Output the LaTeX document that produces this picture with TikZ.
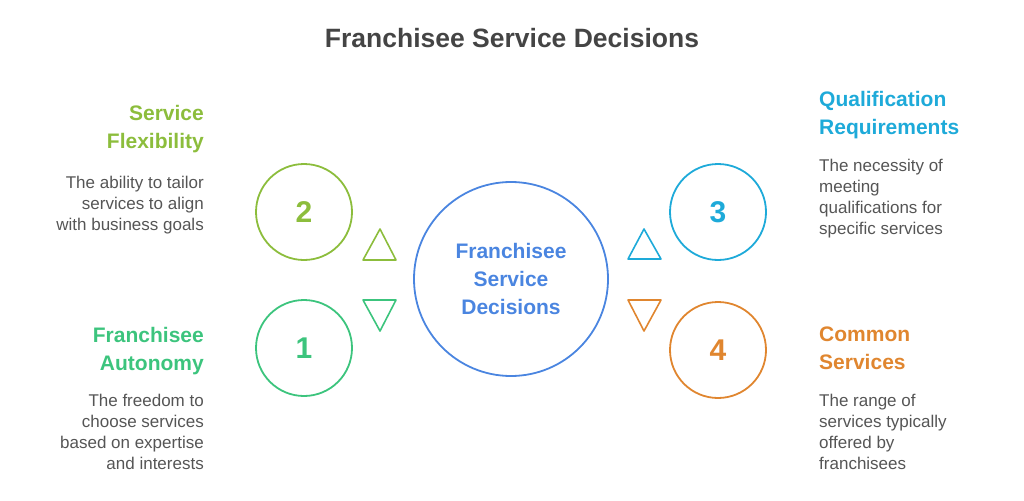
\documentclass[tikz,border=0pt]{standalone}
\usepackage{fontspec}
\setmainfont{Liberation Sans}
\usepackage{xcolor}
\definecolor{ink}{HTML}{555555}
\definecolor{titleink}{HTML}{444444}
\definecolor{hubblue}{HTML}{4A85E0}
\definecolor{autogreen}{HTML}{3CC47D}
\definecolor{flexgreen}{HTML}{8CBD3C}
\definecolor{qualcyan}{HTML}{1EAAD9}
\definecolor{commorange}{HTML}{E0862F}

\begin{document}
\begin{tikzpicture}[x=1pt, y=-1pt,
  ring/.style={circle, draw=#1, line width=1.8pt, minimum size=96pt, inner sep=0pt,
    text=#1, font=\fontsize{30}{30}\selectfont\bfseries},
  hub/.style={circle, draw=hubblue, line width=1.8pt, minimum size=194pt, inner sep=0pt,
    text=hubblue, align=center, font=\fontsize{21}{28}\selectfont\bfseries},
  head/.style={text=#1, inner sep=0pt, font=\fontsize{21}{28}\selectfont\bfseries},
  body/.style={text=ink, inner sep=0pt, font=\fontsize{17}{21}\selectfont},
  tri/.style={draw=#1, line width=1.6pt, line join=round}]
\useasboundingbox (0,0) rectangle (1024,500);

\node[text=titleink, font=\fontsize{26.5}{30}\selectfont\bfseries] (title) at (512,38) {Franchisee Service Decisions};

% hub and the four numbered rings
\node[hub] (hub) at (511,279) {Franchisee\\Service\\Decisions};
\node[ring=flexgreen] (n2) at (304,212) {2};
\node[ring=autogreen] (n1) at (304,348) {1};
\node[ring=qualcyan] (n3) at (718,212) {3};
\node[ring=commorange] (n4) at (718,350) {4};

% little triangles
\draw[tri=flexgreen] (363,260) -- (380,229) -- (396,260) -- cycle;
\draw[tri=autogreen] (363,300) -- (380,331) -- (396,300) -- cycle;
\draw[tri=qualcyan] (628,259) -- (644,229) -- (661,259) -- cycle;
\draw[tri=commorange] (628,300) -- (644,331) -- (661,300) -- cycle;

% left side texts
\node[head=flexgreen, anchor=north east, align=right] (h2) at (204,105) {Service\\Flexibility};
\node[body, anchor=north east, align=right] (d2) at (204,176) {The ability to tailor\\services to align\\with business goals};
\node[head=autogreen, anchor=north east, align=right] (h1) at (204,327) {Franchisee\\Autonomy};
\node[body, anchor=north east, align=right] (d1) at (204,394) {The freedom to\\choose services\\based on expertise\\and interests};

% right side texts
\node[head=qualcyan, anchor=north west, align=left] (h3) at (819,91) {Qualification\\Requirements};
\node[body, anchor=north west, align=left] (d3) at (819,159) {The necessity of\\meeting\\qualifications for\\specific services};
\node[head=commorange, anchor=north west, align=left] (h4) at (819,327) {Common\\Services};
\node[body, anchor=north west, align=left] (d4) at (819,394) {The range of\\services typically\\offered by\\franchisees};
\end{tikzpicture}
\end{document}
